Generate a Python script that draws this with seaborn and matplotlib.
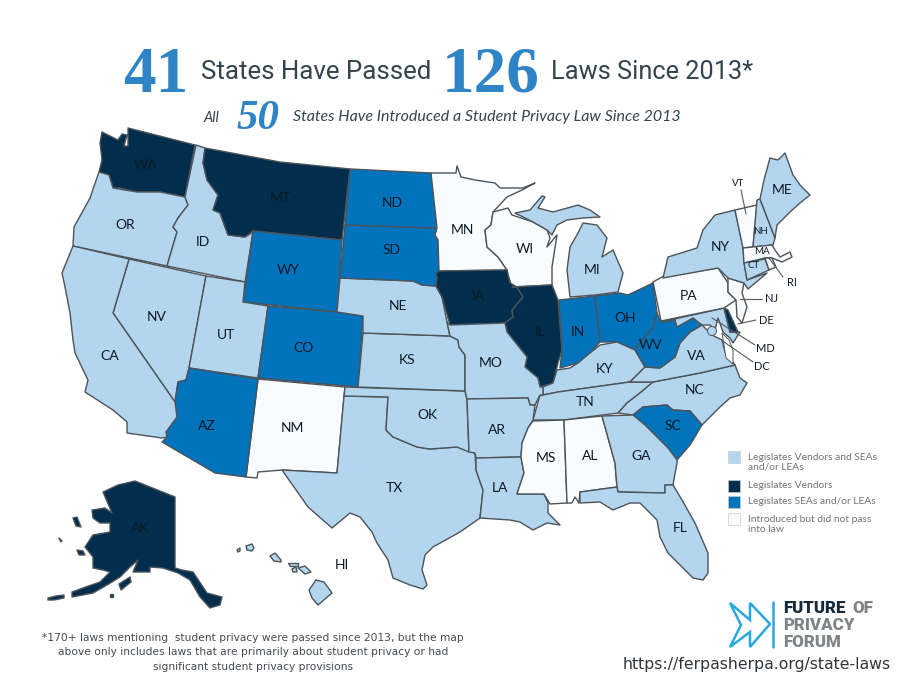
import matplotlib
matplotlib.use("Agg")
import matplotlib.pyplot as plt
import seaborn as sns
import pandas as pd
from matplotlib.patches import Polygon

# ---- categories -----------------------------------------------------------
LEGEND_LABELS = ["Legislates Vendors and SEAs\nand/or LEAs", "Legislates Vendors",
                 "Legislates SEAs and/or LEAs", "Introduced but did not pass\ninto law"]
BOTH = ["OR", "ID", "CA", "NV", "UT", "NE", "KS", "OK", "TX", "MO", "AR", "LA", "MI", "KY", "TN",
        "VA", "NC", "GA", "FL", "NY", "ME", "NH", "CT", "MD", "HI"]
VENDORS = ["WA", "MT", "IA", "IL", "AK", "DE"]
SEAS = ["ND", "SD", "WY", "CO", "AZ", "IN", "OH", "WV", "SC"]
NOT_PASSED = ["MN", "WI", "NM", "MS", "AL", "PA", "NJ", "VT", "MA", "RI"]
PALETTE = ["#b3d5ee", "#022d4c", "#0073bd", "#f8fcfe"]

# ---- state outlines (map geography) ---------------------------------------
WA = [(102,132),(108,135),(118,140),(122,134),(127,135),(124,146),(128,146),(128,128),(195,145),(185,197),(160,192),(137,192),(120,188),(113,188),(109,175),(99,172),(102,160),(100,143)]
OR = [(99,172),(109,175),(113,188),(137,192),(160,192),(185,197),(188,205),(178,218),(173,227),(177,232),(167,266),(73,246),(74,227),(90,198)]
ID = [(196,145),(205,148),(203,163),(207,180),(218,195),(213,210),(220,213),(228,235),(245,237),(253,232),(245,282),(167,266),(177,232),(173,227),(178,218),(188,205),(185,197)]
MT = [(205,148),(280,162),(350,169),(342,240),(253,231),(245,237),(228,235),(220,213),(213,210),(218,195),(207,180),(203,163)]
WY = [(253,231),(342,240),(337,312),(243,302)]
NV = [(129,259),(206,276),(189,368),(186,380),(178,382),(175,402),(113,313)]
UT = [(206,276),(245,282),(243,302),(268,306),(258,378),(189,368)]
CO = [(268,306),(337,312),(363,316),(358,387),(258,378)]
NM = [(258,379),(345,387),(337,473),(282,470),(258,472),(257,478),(246,477)]
AZ = [(189,368),(258,379),(246,477),(215,473),(162,442),(167,437),(166,432),(177,417),(175,402),(178,382),(186,380)]
CA = [(73,246),(129,259),(113,313),(175,402),(177,417),(166,432),(167,437),(162,438),(127,433),(127,422),(113,410),(85,392),(88,380),(75,353),(73,340),(70,313),(65,287),(62,273)]
TX = [(344,396),(388,397),(386,430),(393,437),(417,447),(430,449),(457,447),(475,453),(476,470),(483,490),(480,518),(460,532),(433,547),(425,555),(422,570),(427,585),(423,589),(410,585),(393,578),(388,560),(377,543),(372,532),(360,517),(350,513),(332,528),(308,507),(282,470),(337,473)]
OK = [(345,387),(465,391),(467,400),(469,452),(457,447),(430,449),(417,447),(393,437),(386,430),(388,397),(344,396)]
KS = [(363,333),(450,336),(458,340),(459,347),(465,355),(465,391),(358,387)]
NE = [(340,278),(413,281),(422,285),(436,286),(442,297),(447,322),(450,336),(363,333),(363,316),(337,312)]
SD = [(345,225),(437,228),(435,235),(438,240),(439,272),(436,273),(437,278),(436,286),(422,285),(413,281),(340,278)]
ND = [(350,169),(431,173),(437,228),(345,225)]
MN = [(431,173),(456,173),(457,166),(461,177),(475,180),(495,183),(500,188),(523,188),(535,183),(522,190),(507,197),(493,212),(491,225),(485,230),(487,247),(498,257),(507,270),(439,271),(438,240),(435,235),(437,228)]
WI = [(493,212),(508,208),(512,215),(533,222),(547,230),(550,238),(547,247),(557,235),(552,267),(552,285),(512,287),(508,275),(507,270),(498,257),(487,247),(485,230),(491,225)]
MI_UPPER = [(515,213),(530,210),(542,196),(545,197),(538,208),(553,212),(578,205),(590,210),(600,217),(583,218),(567,220),(557,225),(552,235),(547,230),(533,222)]
MI_LOWER = [(583,223),(597,225),(607,238),(602,257),(613,250),(623,273),(618,292),(595,295),(570,297),(567,270),(570,247),(578,233)]
IA = [(439,271),(507,270),(510,283),(517,287),(523,297),(512,310),(513,317),(505,323),(450,325),(442,297),(436,286),(437,278),(436,273)]
IL = [(512,287),(552,285),(558,300),(562,350),(558,363),(553,383),(540,387),(538,378),(525,367),(527,357),(507,332),(505,323),(513,317),(512,310),(523,297),(517,287)]
IN = [(559,300),(595,296),(600,342),(590,353),(578,363),(560,368),(562,350)]
OH = [(595,296),(620,293),(628,295),(653,283),(657,313),(653,328),(642,340),(635,350),(617,342),(600,342)]
KY = [(543,395),(543,387),(553,383),(557,370),(570,368),(578,363),(590,353),(600,345),(617,342),(635,350),(645,367),(630,382),(558,392)]
TN = [(533,420),(540,395),(543,395),(558,392),(630,382),(653,382),(640,393),(627,403),(618,413),(564,420)]
NC = [(653,382),(700,373),(735,365),(740,378),(747,383),(740,395),(730,398),(720,407),(702,425),(690,411),(673,410),(667,405),(643,407),(633,415),(618,413),(627,403),(640,393)]
SC = [(633,415),(643,407),(667,405),(673,410),(690,411),(702,425),(690,445),(677,460),(668,448),(655,435),(645,425)]
VA = [(630,382),(645,367),(660,368),(675,357),(680,343),(690,332),(702,325),(712,335),(722,340),(725,352),(735,365),(700,373),(653,382)]
WV = [(653,328),(657,313),(661,322),(675,320),(677,327),(693,318),(702,325),(690,332),(680,343),(675,357),(660,368),(645,367),(635,350),(642,340)]
MD = [(661,322),(724,308),(730,332),(740,332),(733,343),(730,338),(723,332),(718,318),(715,330),(710,325),(702,325),(693,318),(677,327),(675,320)]
DE = [(724,308),(728,310),(738,332),(730,332)]
PA = [(653,282),(662,277),(718,268),(728,283),(728,292),(736,300),(724,308),(661,321)]
NJ = [(728,278),(744,283),(742,293),(747,307),(742,323),(737,317),(736,300),(728,292),(728,283)]
NY = [(663,278),(668,257),(697,248),(703,230),(715,215),(735,210),(743,247),(744,262),(747,280),(767,273),(748,289),(744,283),(728,278),(718,268)]
VT = [(735,210),(757,205),(753,247),(743,248)]
NH = [(757,200),(760,199),(775,238),(773,245),(753,247)]
ME = [(760,199),(764,180),(770,158),(778,160),(785,153),(793,175),(800,185),(810,195),(800,203),(790,212),(777,225),(775,238)]
MA = [(743,248),(772,245),(775,250),(780,257),(790,252),(792,257),(782,262),(772,258),(765,258),(744,263)]
CT = [(744,263),(765,259),(769,270),(747,280)]
RI = [(765,258),(772,258),(776,267),(769,270)]
MO = [(450,325),(505,323),(507,332),(527,357),(525,367),(538,378),(540,387),(543,387),(543,395),(540,395),(535,405),(530,405),(528,398),(467,399),(465,391),(465,355),(459,347),(458,340),(450,336),(447,322)]
AR = [(467,399),(528,398),(530,405),(535,405),(533,420),(528,428),(522,443),(521,457),(476,458),(475,453),(469,452)]
LA = [(476,458),(521,457),(524,473),(517,494),(544,494),(548,503),(548,513),(560,525),(547,523),(533,530),(520,522),(510,520),(480,518),(483,490),(476,470)]
MS = [(533,421),(564,420),(567,503),(550,504),(544,494),(517,494),(524,473),(521,457),(522,443),(528,428)]
AL = [(564,420),(602,416),(615,463),(617,487),(580,492),(579,503),(575,497),(572,503),(567,503)]
GA = [(602,416),(633,415),(645,425),(655,435),(668,448),(677,460),(677,463),(673,485),(665,485),(665,493),(618,492),(617,487),(615,463)]
FL = [(580,492),(617,487),(618,492),(665,493),(665,485),(673,485),(682,500),(695,523),(708,553),(708,573),(703,580),(693,578),(680,565),(668,553),(660,537),(657,520),(640,503),(630,503),(613,510),(600,502),(580,503)]
AK = [(135,481),(165,493),(175,497),(175,568),(182,570),(193,572),(207,593),(222,597),(220,605),(210,608),(200,597),(190,580),(178,573),(163,568),(150,567),(150,572),(133,572),(138,560),(130,567),(120,577),(107,585),(93,593),(72,597),(72,592),(83,588),(100,582),(110,572),(103,570),(93,568),(93,557),(85,547),(93,535),(110,532),(110,523),(100,523),(93,518),(92,510),(105,508),(112,513),(103,492),(118,485)]
AK_ST_LAWRENCE = [(73,518),(77,517),(81,527),(76,526)]
AK_NUNIVAK = [(77,550),(83,551),(85,555),(79,555)]
AK_ST_MATTHEW = [(59,538),(62,541),(61,542)]
AK_KODIAK = [(119,584),(130,577),(131,582),(121,590)]
AK_ALEUTIAN_A = [(48,598),(56,596),(64,595),(64,598),(54,600),(48,600)]
AK_ALEUTIAN_B = [(110,594),(113,594),(113,597),(110,597)]
HI_NIIHAU = [(237,550),(240,548),(240,551),(238,552)]
HI_KAUAI = [(246,546),(252,544),(254,548),(252,551),(247,550)]
HI_OAHU = [(270,556),(275,553),(281,560),(281,562),(274,561)]
HI_MOLOKAI = [(288,563),(298,563),(298,566),(290,566)]
HI_LANAI = [(292,569),(296,567),(297,572),(293,572)]
HI_MAUI = [(298,568),(305,566),(311,572),(305,574)]
HI_BIG = [(309,590),(316,580),(324,582),(332,593),(318,605),(312,598)]
CHESAPEAKE = [(722,333),(724,345),(726,358),(733,364),(733,350),(729,340)]
OUTLINES = {"WA": [WA], "OR": [OR], "ID": [ID], "MT": [MT], "WY": [WY], "NV": [NV], "UT": [UT], "CO": [CO], "NM": [NM],
            "AZ": [AZ], "CA": [CA], "TX": [TX], "OK": [OK], "KS": [KS], "NE": [NE], "SD": [SD], "ND": [ND], "MN": [MN],
            "WI": [WI], "MI": [MI_UPPER, MI_LOWER], "IA": [IA], "IL": [IL], "IN": [IN], "OH": [OH], "KY": [KY], "TN": [TN],
            "NC": [NC], "SC": [SC], "VA": [VA], "WV": [WV], "MD": [MD], "DE": [DE], "PA": [PA], "NJ": [NJ], "NY": [NY],
            "VT": [VT], "NH": [NH], "ME": [ME], "MA": [MA], "CT": [CT], "RI": [RI], "MO": [MO], "AR": [AR], "LA": [LA],
            "MS": [MS], "AL": [AL], "GA": [GA], "FL": [FL],
            "AK": [AK, AK_ST_LAWRENCE, AK_NUNIVAK, AK_ST_MATTHEW, AK_KODIAK, AK_ALEUTIAN_A, AK_ALEUTIAN_B],
            "HI": [HI_NIIHAU, HI_KAUAI, HI_OAHU, HI_MOLOKAI, HI_LANAI, HI_MAUI, HI_BIG]}

# ---- state labels ---------------------------------------------------------
LABEL_NAMES = ["WA","OR","ID","MT","WY","ND","SD","MN","WI","MI","IA","IL","IN","OH","NE","KS","MO","CO","UT","NV","CA","AZ","NM","TX","OK","AR","LA","MS","AL","GA","SC","FL","TN","KY","WV","VA","NC","PA","NY","ME","HI","AK"]
LABEL_X = [146,125,203,280,288,392,392,462,525,592,478,540,578,625,398,407,491,304,226,157,110,207,292,394,427,497,500,546,590,641,673,680,585,605,651,696,695,689,720,782,342,140]
LABEL_Y = [165,225,242,198,270,203,250,230,249,270,296,332,332,318,306,360,363,348,335,317,356,426,428,488,415,430,488,458,456,456,426,528,402,369,345,356,390,296,247,190,565,528]
SMALL_NAMES = ["NH","MA","CT"]
SMALL_X = [761,762,754]
SMALL_Y = [231,251,266]
LEADER_NAMES = ["VT","RI","NJ","DE","MD","DC"]
LEADER_TEXT_X = [738,792,772,766,765,762]
LEADER_TEXT_Y = [183,283,299,320,348,366]
LEADER_X0 = [741,783,762,756,755,753]
LEADER_Y0 = [190,277,299,320,345,362]
LEADER_X1 = [746,769,740,738,712,724]
LEADER_Y1 = [214,258,299,324,318,342]

LEGEND_X = [734,734,734,734]
LEGEND_Y = [457,486,502,519]
LOGO_BAR_X = [773,773]
LOGO_BAR_Y = [602,647]
LOGO_CHEVRON = [(730,603),(750,620),(750,603),(770,624),(750,647),(750,632),(730,647),(741,625)]

sns.set_theme(style="white")
plt.rcParams["font.family"] = ["Lato", "DejaVu Sans"]
fig = plt.figure(figsize=(9, 6.75), dpi=100, facecolor="white")
ax = fig.add_axes([0, 0, 1, 1])
ax.set_xlim(0, 900)
ax.set_ylim(675, 0)
ax.axis("off")

colour_of = {}
for group, colour in zip([BOTH, VENDORS, SEAS, NOT_PASSED], PALETTE):
    for st in group:
        colour_of[st] = colour

for st, parts in OUTLINES.items():
    for part in parts:
        ax.add_patch(Polygon(part, closed=True, facecolor=colour_of[st], edgecolor="#4c5359",
                             linewidth=1.0, joinstyle="round", zorder=2))
ax.add_patch(Polygon(CHESAPEAKE, closed=True, facecolor="white", edgecolor="#4c5359", linewidth=0.7, zorder=3))
ax.add_patch(plt.Circle((712, 331), 4.5, facecolor="#b3d5ee", edgecolor="#4c5359", linewidth=0.7, zorder=3))

LABEL_C = "#0d1a25"
for n, x, y in zip(LABEL_NAMES, LABEL_X, LABEL_Y):
    ax.text(x, y, n, fontsize=10, color=LABEL_C, ha="center", va="center", zorder=5)
for n, x, y in zip(SMALL_NAMES, SMALL_X, SMALL_Y):
    ax.text(x, y, n, fontsize=7, color=LABEL_C, ha="center", va="center", zorder=5)
for n, tx, ty, x0, y0, x1, y1 in zip(LEADER_NAMES, LEADER_TEXT_X, LEADER_TEXT_Y, LEADER_X0, LEADER_Y0, LEADER_X1, LEADER_Y1):
    ax.text(tx, ty, n, fontsize=8 if n != "VT" else 7, color=LABEL_C, ha="center", va="center", zorder=5)
    ax.plot([x0, x1], [y0, y1], color="#55595c", lw=0.8, zorder=4)

# legend swatches through seaborn
leg = pd.DataFrame({"x": LEGEND_X, "y": LEGEND_Y, "k": LEGEND_LABELS})
sns.scatterplot(data=leg, x="x", y="y", hue="k", palette=PALETTE, marker="s", s=68,
                edgecolor="#c6ccd0", linewidth=0.5, legend=False, ax=ax, zorder=5)
ax.set_xlabel("")
ax.set_ylabel("")
for lbl, y in zip(LEGEND_LABELS, LEGEND_Y):
    ax.text(748, y - 4.5, lbl, fontsize=7.4, color="#707478", va="top", ha="left", linespacing=1.15)

# headline
BLUE = "#2f84c5"
DARK = "#33444f"
SERIF = "Liberation Serif"
ax.text(156, 92, "41", fontsize=47, color=BLUE, family=SERIF, weight="bold", ha="center", va="baseline")
ax.text(491, 92, "126", fontsize=47, color=BLUE, family=SERIF, weight="bold", ha="center", va="baseline")
ax.text(201, 79, "States Have Passed", fontsize=18.6, color=DARK, family="Roboto", ha="left", va="baseline")
ax.text(551, 79, "Laws Since 2013*", fontsize=18.3, color=DARK, family="Roboto", ha="left", va="baseline")
ax.text(203, 122, "All", fontsize=10.5, color=DARK, style="italic", ha="left", va="baseline")
ax.text(258, 129, "50", fontsize=31, color=BLUE, family=SERIF, weight="bold", style="italic", ha="center", va="baseline")
ax.text(293, 121, "States Have Introduced a Student Privacy Law Since 2013", fontsize=11.5, color=DARK,
        style="italic", ha="left", va="baseline")

# footnote
FOOTNOTE = ["*170+ laws mentioning  student privacy were passed since 2013, but the map",
            "above only includes laws that are primarily about student privacy or had",
            "significant student privacy provisions"]
for line, y in zip(FOOTNOTE, [638, 652, 667]):
    ax.text(253, y, line, fontsize=7.7, color="#444a4f", ha="center", va="center", family="DejaVu Sans")

# logo
ax.add_patch(Polygon(LOGO_CHEVRON, closed=True, facecolor="none", edgecolor="#29a8e0", linewidth=1.8, zorder=3))
ax.plot(LOGO_BAR_X, LOGO_BAR_Y, color="#29a8e0", lw=1.8, zorder=3)
ax.text(783, 608, "FUTURE", fontsize=12.2, color="#14293a", family="Roboto", weight="black", va="center", ha="left")
ax.text(852, 608, "OF", fontsize=12.2, color="#7f8487", family="Roboto", weight="black", va="center", ha="left")
ax.text(783, 625, "PRIVACY", fontsize=12.2, color="#7f8487", family="Roboto", weight="black", va="center", ha="left")
ax.text(783, 642, "FORUM", fontsize=12.2, color="#7f8487", family="Roboto", weight="black", va="center", ha="left")
ax.text(623, 665, "https://ferpasherpa.org/state-laws", fontsize=11.3, color="#30363b", family="DejaVu Sans", va="center", ha="left")

fig.savefig("out.png", dpi=100, facecolor="white")
